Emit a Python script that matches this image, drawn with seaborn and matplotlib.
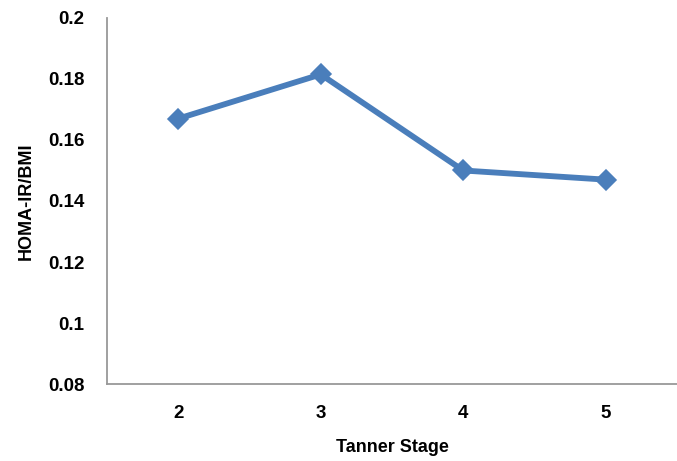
import matplotlib
matplotlib.use("Agg")
import matplotlib.pyplot as plt
import seaborn as sns
import pandas as pd

stages = ["2", "3", "4", "5"]
homa_bmi = [0.167, 0.1815, 0.150, 0.147]

sns.set_style("white")
plt.rcParams['font.family'] = ['Liberation Sans', 'DejaVu Sans']

df = pd.DataFrame({"Tanner Stage": stages, "HOMA-IR/BMI": homa_bmi})

fig = plt.figure(figsize=(6.77, 4.61), dpi=100)
ax = fig.add_axes([0.158, 0.167, 0.842, 0.794])
sns.pointplot(data=df, x="Tanner Stage", y="HOMA-IR/BMI", ax=ax,
              color="#4A7EBB", marker="D", markersize=8.5, linewidth=4.2,
              errorbar=None)
ax.set_xlim(-0.5, 3.5)
ax.set_ylim(0.08, 0.2)
ax.set_yticks([0.08, 0.1, 0.12, 0.14, 0.16, 0.18, 0.2])
ax.set_yticklabels(["0.08", "0.1", "0.12", "0.14", "0.16", "0.18", "0.2"])
for s in ["top", "right"]:
    ax.spines[s].set_visible(False)
for s in ["left", "bottom"]:
    ax.spines[s].set_color("#999999")
    ax.spines[s].set_linewidth(1.3)
ax.tick_params(axis="y", direction="in", length=5, width=1.3, color="#999999",
               labelsize=13.5, pad=16, labelcolor="black")
ax.tick_params(axis="x", length=0, labelsize=13.5, pad=15, labelcolor="black")
for lbl in ax.get_xticklabels() + ax.get_yticklabels():
    lbl.set_fontweight("bold")
ax.set_xlabel("Tanner Stage", fontsize=13, fontweight="bold", labelpad=12,
              color="black")
ax.set_ylabel("HOMA-IR/BMI", fontsize=13, fontweight="bold", labelpad=10,
              color="black")
ax.grid(False)
fig.savefig("out.png", dpi=100)
